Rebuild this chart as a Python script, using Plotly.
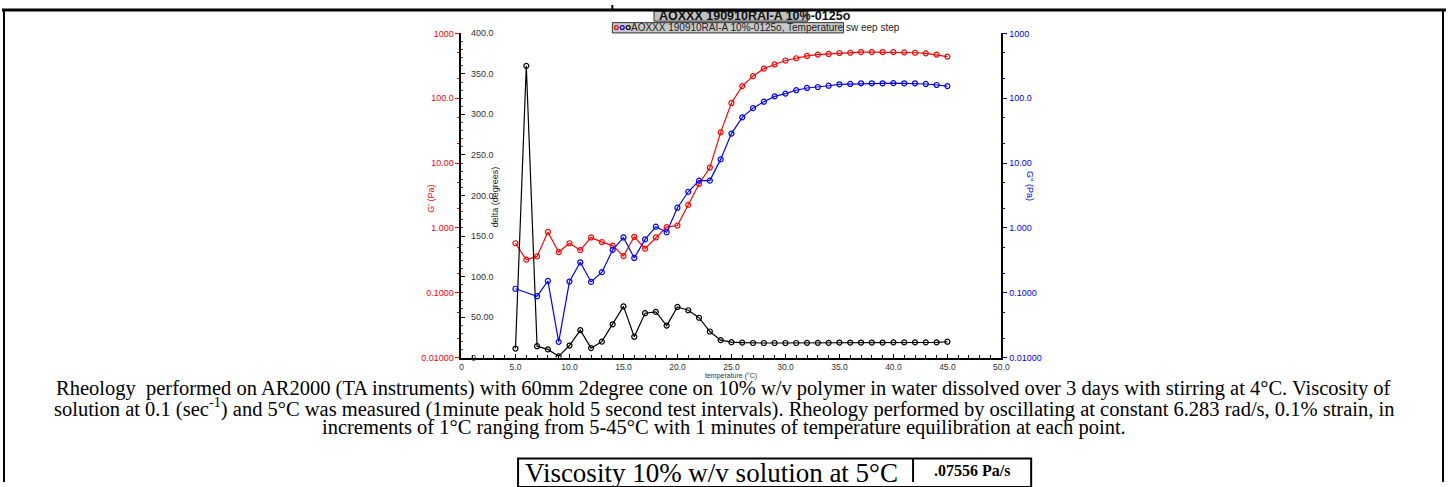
import plotly.graph_objects as go

W, H = 1455, 487

# ---------------- data ----------------
temperature = list(range(5, 46))
g_prime = [0.58, 0.324, 0.364, 0.867, 0.424, 0.58, 0.454, 0.713, 0.605, 0.533,
           0.368, 0.73, 0.48, 0.713, 1.03, 1.09, 2.27, 4.77, 8.53, 29.8,
           84.6, 154, 219, 286, 332, 382, 414, 449, 471, 482,
           499, 503, 516, 516, 516, 516, 510, 503, 493, 471, 439]
temperature_g2 = [5] + list(range(7, 46))
g_double = [0.1153, 0.0885, 0.152, 0.0175, 0.149, 0.295, 0.147, 0.208, 0.459,
            0.713, 0.344, 0.665, 1.047, 0.858, 2.05, 3.61, 5.36, 5.36, 11.4,
            28.5, 50.8, 70.3, 88.5, 107, 118, 133, 144, 149, 156,
            164, 166, 170, 170, 170, 171, 170, 170, 166, 160, 154]
delta = [11.2, 360, 14.1, 10.1, 1.6, 14.9, 33.8, 11.7, 19.7, 41.1,
         63.2, 25.8, 54.8, 56.4, 39.5, 62.5, 58.4, 49.2, 32.2, 21.6,
         19.0, 18.5, 18.0, 18.0, 18.0, 18.0, 18.0, 18.2, 18.2, 18.2,
         18.6, 18.6, 18.6, 18.6, 18.6, 18.8, 18.8, 18.8, 18.8, 18.8, 19.6]

x_ticks = list(range(0, 51, 5))
x_ticktext = ["0"] + [f"{v:.1f}" for v in x_ticks[1:]]
log_ticks = [0.01, 0.1, 1, 10, 100, 1000]
log_ticktext = ["0.01000", "0.1000", "1.000", "10.00", "100.0", "1000"]
delta_ticks = [0, 50, 100, 150, 200, 250, 300, 350, 400]
delta_ticktext = ["0", "50.00", "100.0", "150.0", "200.0", "250.0", "300.0", "350.0", "400.0"]

title_text = "AOXXX 190910RAI-A 10%-0125o"
legend_text = "AOXXX 190910RAI-A 10%-0125o, Temperature sw eep step"
caption_lines = [
    "Rheology  performed on AR2000 (TA instruments) with 60mm 2degree cone on 10% w/v polymer in water dissolved over 3 days with stirring at 4°C. Viscosity of",
    "solution at 0.1 (sec<sup>-1</sup>) and 5°C was measured (1minute peak hold 5 second test intervals). Rheology performed by oscillating at constant 6.283 rad/s, 0.1% strain, in",
    "increments of 1°C ranging from 5-45°C with 1 minutes of temperature equilibration at each point.",
]
table_label = "Viscosity 10% w/v solution at 5°C"
table_value = "<b>.07556 Pa/s</b>"

RED, BLUE, BLACK = "#ff0000", "#0000ff", "#000000"


def px(x):
    return x / W


def py(y):
    return 1 - y / H


plot_l, plot_r, plot_t, plot_b = 463, 1007, 29, 360

fig = go.Figure()
fig.add_trace(go.Scatter(x=temperature, y=g_prime, mode="lines+markers", yaxis="y",
                         line=dict(color=RED, width=1.2),
                         marker=dict(symbol="circle-open", size=5, color=RED, line=dict(width=1.2)),
                         showlegend=False, hoverinfo="skip"))
fig.add_trace(go.Scatter(x=temperature_g2, y=g_double, mode="lines+markers", yaxis="y3",
                         line=dict(color=BLUE, width=1.2),
                         marker=dict(symbol="circle-open", size=5, color=BLUE, line=dict(width=1.2)),
                         showlegend=False, hoverinfo="skip"))
fig.add_trace(go.Scatter(x=temperature, y=delta, mode="lines+markers", yaxis="y2",
                         line=dict(color=BLACK, width=1.2),
                         marker=dict(symbol="circle-open", size=5, color=BLACK, line=dict(width=1.2)),
                         showlegend=False, hoverinfo="skip"))

tickfont = dict(family="Liberation Sans", size=9)

fig.update_layout(
    width=W, height=H, autosize=False,
    margin=dict(l=0, r=0, t=0, b=0),
    paper_bgcolor="white", plot_bgcolor="white",
    xaxis=dict(domain=[px(plot_l), px(plot_r)], range=[0, 50], anchor="y",
               tickvals=x_ticks, ticktext=x_ticktext, ticks="inside", ticklen=4,
               tickcolor=BLACK, tickwidth=1,
               minor=dict(ticks="inside", dtick=1, ticklen=3, tickcolor=BLACK, showgrid=False),
               showline=True, linewidth=2, linecolor=BLACK, showgrid=False, zeroline=False,
               tickfont=dict(family="Liberation Sans", size=8.5, color="#333333")),
    yaxis=dict(type="log", range=[-2, 3], domain=[py(plot_b), py(plot_t)], anchor="x",
               tickvals=log_ticks, ticktext=log_ticktext, ticks="outside", ticklen=4,
               tickcolor=RED, tickwidth=1,
               minor=dict(ticks="outside", ticklen=2, tickcolor=RED, showgrid=False),
               showline=True, linewidth=2, linecolor=BLACK, showgrid=False, zeroline=False,
               tickfont=dict(tickfont, color=RED)),
    yaxis2=dict(overlaying="y", anchor="x", side="left", range=[0, 400],
                tickvals=delta_ticks, showticklabels=False,
                ticks="inside", ticklen=4, tickcolor=BLACK,
                minor=dict(ticks="inside", dtick=10, ticklen=2, tickcolor="#444444", showgrid=False),
                showline=False, showgrid=False, zeroline=False),
    yaxis3=dict(type="log", range=[-2, 3], overlaying="y", anchor="x", side="right",
                tickvals=log_ticks, ticktext=log_ticktext,
                ticks="outside", ticklen=4, tickcolor=BLUE,
                minor=dict(ticks="outside", ticklen=2, tickcolor=BLUE, showgrid=False),
                showline=True, linewidth=2, linecolor=BLACK, showgrid=False, zeroline=False,
                tickfont=dict(tickfont, color=BLUE)),
)

shapes = []
# document frame lines
shapes.append(dict(type="line", xref="paper", yref="paper", x0=0, x1=1, y0=py(5), y1=py(5),
                   line=dict(color=BLACK, width=3)))
shapes.append(dict(type="line", xref="paper", yref="paper", x0=px(615), x1=px(615), y0=py(0), y1=py(5),
                   line=dict(color=BLACK, width=2)))
shapes.append(dict(type="line", xref="paper", yref="paper", x0=px(2), x1=px(2), y0=py(5), y1=0,
                   line=dict(color=BLACK, width=2)))
shapes.append(dict(type="line", xref="paper", yref="paper", x0=px(1452), x1=px(1452), y0=py(5), y1=0,
                   line=dict(color=BLACK, width=2)))
# chart title box and legend box
shapes.append(dict(type="rect", xref="paper", yref="paper", x0=px(657), x1=px(812), y0=py(16.5), y1=py(6.5),
                   line=dict(color="#333333", width=1), fillcolor="#c0c0c0", layer="below"))
shapes.append(dict(type="rect", xref="paper", yref="paper", x0=px(615), x1=px(848), y0=py(28.5), y1=py(18),
                   line=dict(color="#333333", width=1), fillcolor="#c8c8c8", layer="below"))
# table
shapes.append(dict(type="rect", xref="paper", yref="paper", x0=px(520), x1=px(1037), y0=py(492), y1=py(463),
                   line=dict(color=BLACK, width=2)))
shapes.append(dict(type="line", xref="paper", yref="paper", x0=px(918), x1=px(918), y0=py(463), y1=0,
                   line=dict(color=BLACK, width=2)))
fig.update_layout(shapes=shapes)

ann = []
# delta axis tick labels (drawn inside the plot, next to the left axis)
for v, t in zip(delta_ticks, delta_ticktext):
    ann.append(dict(text=t, x=px(plot_l + 8), y=v, xref="paper", yref="y2",
                    xanchor="left", yanchor="middle", showarrow=False,
                    font=dict(tickfont, color="#333333")))
ann.append(dict(text="<b>" + title_text + "</b>", x=px(660), y=py(11.5), xref="paper", yref="paper",
                xanchor="left", yanchor="middle", showarrow=False,
                font=dict(family="Liberation Sans", size=12.5, color="#111111")))
ann.append(dict(text=legend_text, x=px(632), y=py(23), xref="paper", yref="paper",
                xanchor="left", yanchor="middle", showarrow=False,
                font=dict(family="Liberation Sans", size=10, color="#222222")))
ann.append(dict(text="G' (Pa)", x=px(425), y=py(198), xref="paper", yref="paper", textangle=-90,
                showarrow=False, font=dict(family="Liberation Sans", size=9, color=RED)))
ann.append(dict(text="delta (degrees)", x=px(497), y=py(196), xref="paper", yref="paper", textangle=-90,
                showarrow=False, font=dict(family="Liberation Sans", size=9, color="#222222")))
ann.append(dict(text="G'' (Pa)", x=px(1043), y=py(185), xref="paper", yref="paper", textangle=90,
                showarrow=False, font=dict(family="Liberation Sans", size=9, color=BLUE)))
ann.append(dict(text="temperature (°C)", x=px(735), y=py(385), xref="paper", yref="paper",
                showarrow=False, font=dict(family="Liberation Sans", size=7, color="#333333")))
caption_y = [392, 411, 431]
caption_sizes = [20.5, 20.5, 20.5]
for line, yy, sz in zip(caption_lines, caption_y, caption_sizes):
    ann.append(dict(text=line, x=px(727), y=py(yy), xref="paper", yref="paper",
                    xanchor="center", yanchor="middle", showarrow=False,
                    font=dict(family="Liberation Serif", size=sz, color=BLACK)))
ann.append(dict(text=table_label, x=px(715), y=py(478), xref="paper", yref="paper",
                xanchor="center", yanchor="middle", showarrow=False,
                font=dict(family="Liberation Serif", size=27, color=BLACK)))
ann.append(dict(text=table_value, x=px(977), y=py(475), xref="paper", yref="paper",
                xanchor="center", yanchor="middle", showarrow=False,
                font=dict(family="Liberation Serif", size=16, color=BLACK)))
fig.update_layout(annotations=ann)

# small legend markers in the legend box
for xx, col in zip([619, 625, 631], [RED, BLUE, BLACK]):
    fig.add_shape(type="circle", xref="paper", yref="paper", x0=px(xx - 2), x1=px(xx + 2),
                  y0=py(25), y1=py(21), line=dict(color=col, width=1.2))

post = ("var d=document.getElementById('{plot_id}');"
        "d.style.position='fixed';d.style.left='0px';d.style.top='0px';"
        "document.body.style.margin='0';document.body.style.overflow='hidden';"
        "document.documentElement.style.overflow='hidden';")
fig.write_html("out.html", config={"displayModeBar": False, "staticPlot": True}, post_script=post)
